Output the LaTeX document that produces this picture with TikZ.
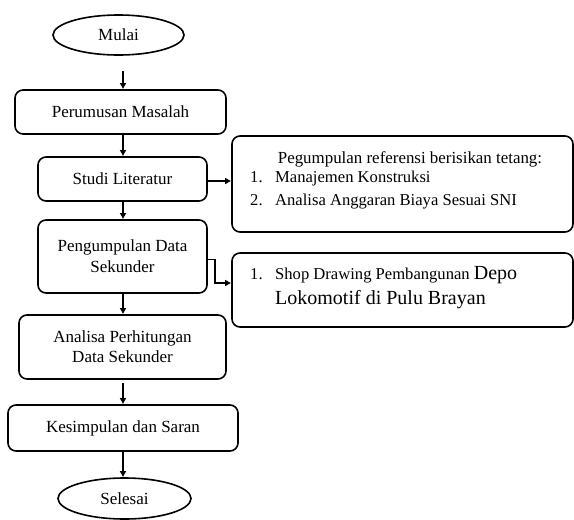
\documentclass[tikz,border=0pt]{standalone}
\usepackage{fontspec}
\setmainfont{Liberation Serif}
\usetikzlibrary{shapes.geometric,arrows.meta,calc}
\begin{document}
\begin{tikzpicture}[x=1pt,y=-1pt,
  every node/.style={font=\fontsize{17}{21}\selectfont},
  box/.style={draw,line width=1.6pt,rounded corners=8pt,align=center,inner sep=0pt},
  oval/.style={draw,line width=1.6pt,ellipse,inner sep=0pt},
  txt/.style={inner sep=0pt,anchor=mid west,font=\fontsize{16.6}{20}\selectfont},
  arr/.style={line width=1.6pt,-{Latex[length=6pt,width=7pt]}}]
\useasboundingbox (0,0) rectangle (574,520);
\coordinate (ax) at (123,0);
\node[oval,minimum width=131pt,minimum height=40pt] (mulai) at (118.5,35) {Mulai};
\node[box,minimum width=211pt,minimum height=44pt] (perumusan) at (120.5,112) {Perumusan Masalah};
\node[box,minimum width=169pt,minimum height=44pt] (studi) at (122.5,179) {Studi Literatur};
\node[box,minimum width=169pt,minimum height=73pt] (peng) at (122.5,256.5) {Pengumpulan Data\\Sekunder};
\node[box,minimum width=207pt,minimum height=64pt,font=\fontsize{17}{20}\selectfont] (analisa) at (122.5,347) {Analisa Perhitungan\\Data Sekunder};
\node[box,minimum width=230pt,minimum height=46pt] (kesimpulan) at (123,428) {Kesimpulan dan Saran};
\node[oval,minimum width=133pt,minimum height=41pt] (selesai) at (124.5,498.5) {Selesai};
% right boxes
\node[box,minimum width=341pt,minimum height=96pt] (boxa) at (402.5,184) {};
\node[box,minimum width=341pt,minimum height=74pt] (boxb) at (402.5,290) {};
\node[inner sep=0pt,font=\fontsize{16.9}{20}\selectfont] (head) at (410,159) {Pegumpulan referensi berisikan tetang:};
\node[txt] (n1) at (250,180) {1.};
\node[txt] (l1) at (275,180) {Manajemen Konstruksi};
\node[txt] (n2) at (250,203) {2.};
\node[txt] (l2) at (275,203) {Analisa Anggaran Biaya Sesuai SNI};
\node[txt] (n3) at (250,277) {1.};
\node[txt] (l3) at (275,277) {Shop Drawing Pembangunan {\fontsize{20}{22}\selectfont Depo}};
\node[txt,font=\fontsize{20}{22}\selectfont] (l4) at (275,302) {Lokomotif di Pulu Brayan};
% arrows
\draw[arr] ($(ax |- mulai.south)+(0,15)$) -- (ax |- perumusan.north);
\draw[arr] (ax |- perumusan.south) -- (ax |- studi.north);
\draw[arr] (ax |- studi.south) -- (ax |- peng.north);
\draw[arr] (ax |- peng.south) -- (ax |- analisa.north);
\draw[arr] ($(ax |- analisa.south)+(0,3)$) -- (ax |- kesimpulan.north);
\draw[arr] (ax |- kesimpulan.south) -- (ax |- selesai.north);
\draw[arr] ([yshift=-2pt]studi.east) -- ([yshift=-2pt]studi.east -| boxa.west);
\draw[arr] ([yshift=-3pt]peng.east) -| ([xshift=-16pt,yshift=7pt]boxb.west) -- ([yshift=7pt]boxb.west);
\end{tikzpicture}
\end{document}
